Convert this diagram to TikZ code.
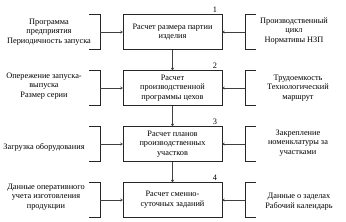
\documentclass[tikz,border=0pt]{standalone}
\usepackage{fontspec}
\setmainfont{Liberation Serif}
\usetikzlibrary{arrows.meta,positioning}
\begin{document}
\begin{tikzpicture}[x=1pt,y=1pt,
  font=\fontsize{8.3}{9.8}\selectfont,
  stage/.style={draw=black!85,line width=0.6pt,minimum width=99pt,minimum height=35pt,align=center,inner sep=1pt},
  lbr/.style={minimum width=11pt,minimum height=35pt,inner sep=0pt},
  txt/.style={align=center,inner sep=0pt},
  num/.style={anchor=south east,inner sep=1pt},
  link/.style={draw=black!75,line width=0.6pt,-{To[length=2.5pt,width=3pt]}},
  brk/.style={draw=black!85,line width=0.6pt}]
\useasboundingbox (0,0) rectangle (346,222);
% stages
\node[stage] (b1) at (172.5,190) {Расчет размера партии\\изделия};
\node[stage] (b2) at (172.5,134) {Расчет\\производственной\\программы цехов};
\node[stage] (b3) at (172.5,78) {Расчет планов\\производственных\\участков};
\node[stage] (b4) at (172.5,22) {Расчет сменно-\\суточных заданий};
\foreach \i in {1,2,3,4}{\node[num] (n\i) at ([xshift=-4pt]b\i.north east) {\i};}
% brackets
\foreach \i/\y in {1/190,2/134,3/78,4/22}{
  \node[lbr] (l\i) at (94.5,\y) {};
  \node[lbr] (r\i) at (250.5,\y) {};
  \draw[brk] (l\i.north west) -- (l\i.north east) -- (l\i.south east) -- (l\i.south west);
  \draw[brk] (r\i.north east) -- (r\i.north west) -- (r\i.south west) -- (r\i.south east);
  \draw[link] (l\i.east) -- (b\i.west);
  \draw[link] (r\i.west) -- (b\i.east);
}
\draw[link] (b1.south) -- (b2.north);
\draw[link] (b2.south) -- (b3.north);
\draw[link] (b3.south) -- (b4.north);
% left texts
\node[txt] (t1) at (49,190) {Программа\\предприятия\\Периодичность запуска};
\node[txt] (t2) at (44,136) {Опережение запуска-\\выпуска\\Размер серии};
\node[txt] (t3) at (44,75) {Загрузка оборудования};
\node[txt] (t4) at (46,25) {Данные оперативного\\учета изготовления\\продукции};
% right texts
\node[txt] (s1) at (294,191) {Производственный\\цикл\\Нормативы НЗП};
\node[txt] (s2) at (298,134) {Трудоемкость\\Технологический\\маршрут};
\node[txt] (s3) at (298,79) {Закрепление\\номенклатуры за\\участками};
\node[txt] (s4) at (299,20) {Данные о заделах\\Рабочий календарь};
\end{tikzpicture}
\end{document}
